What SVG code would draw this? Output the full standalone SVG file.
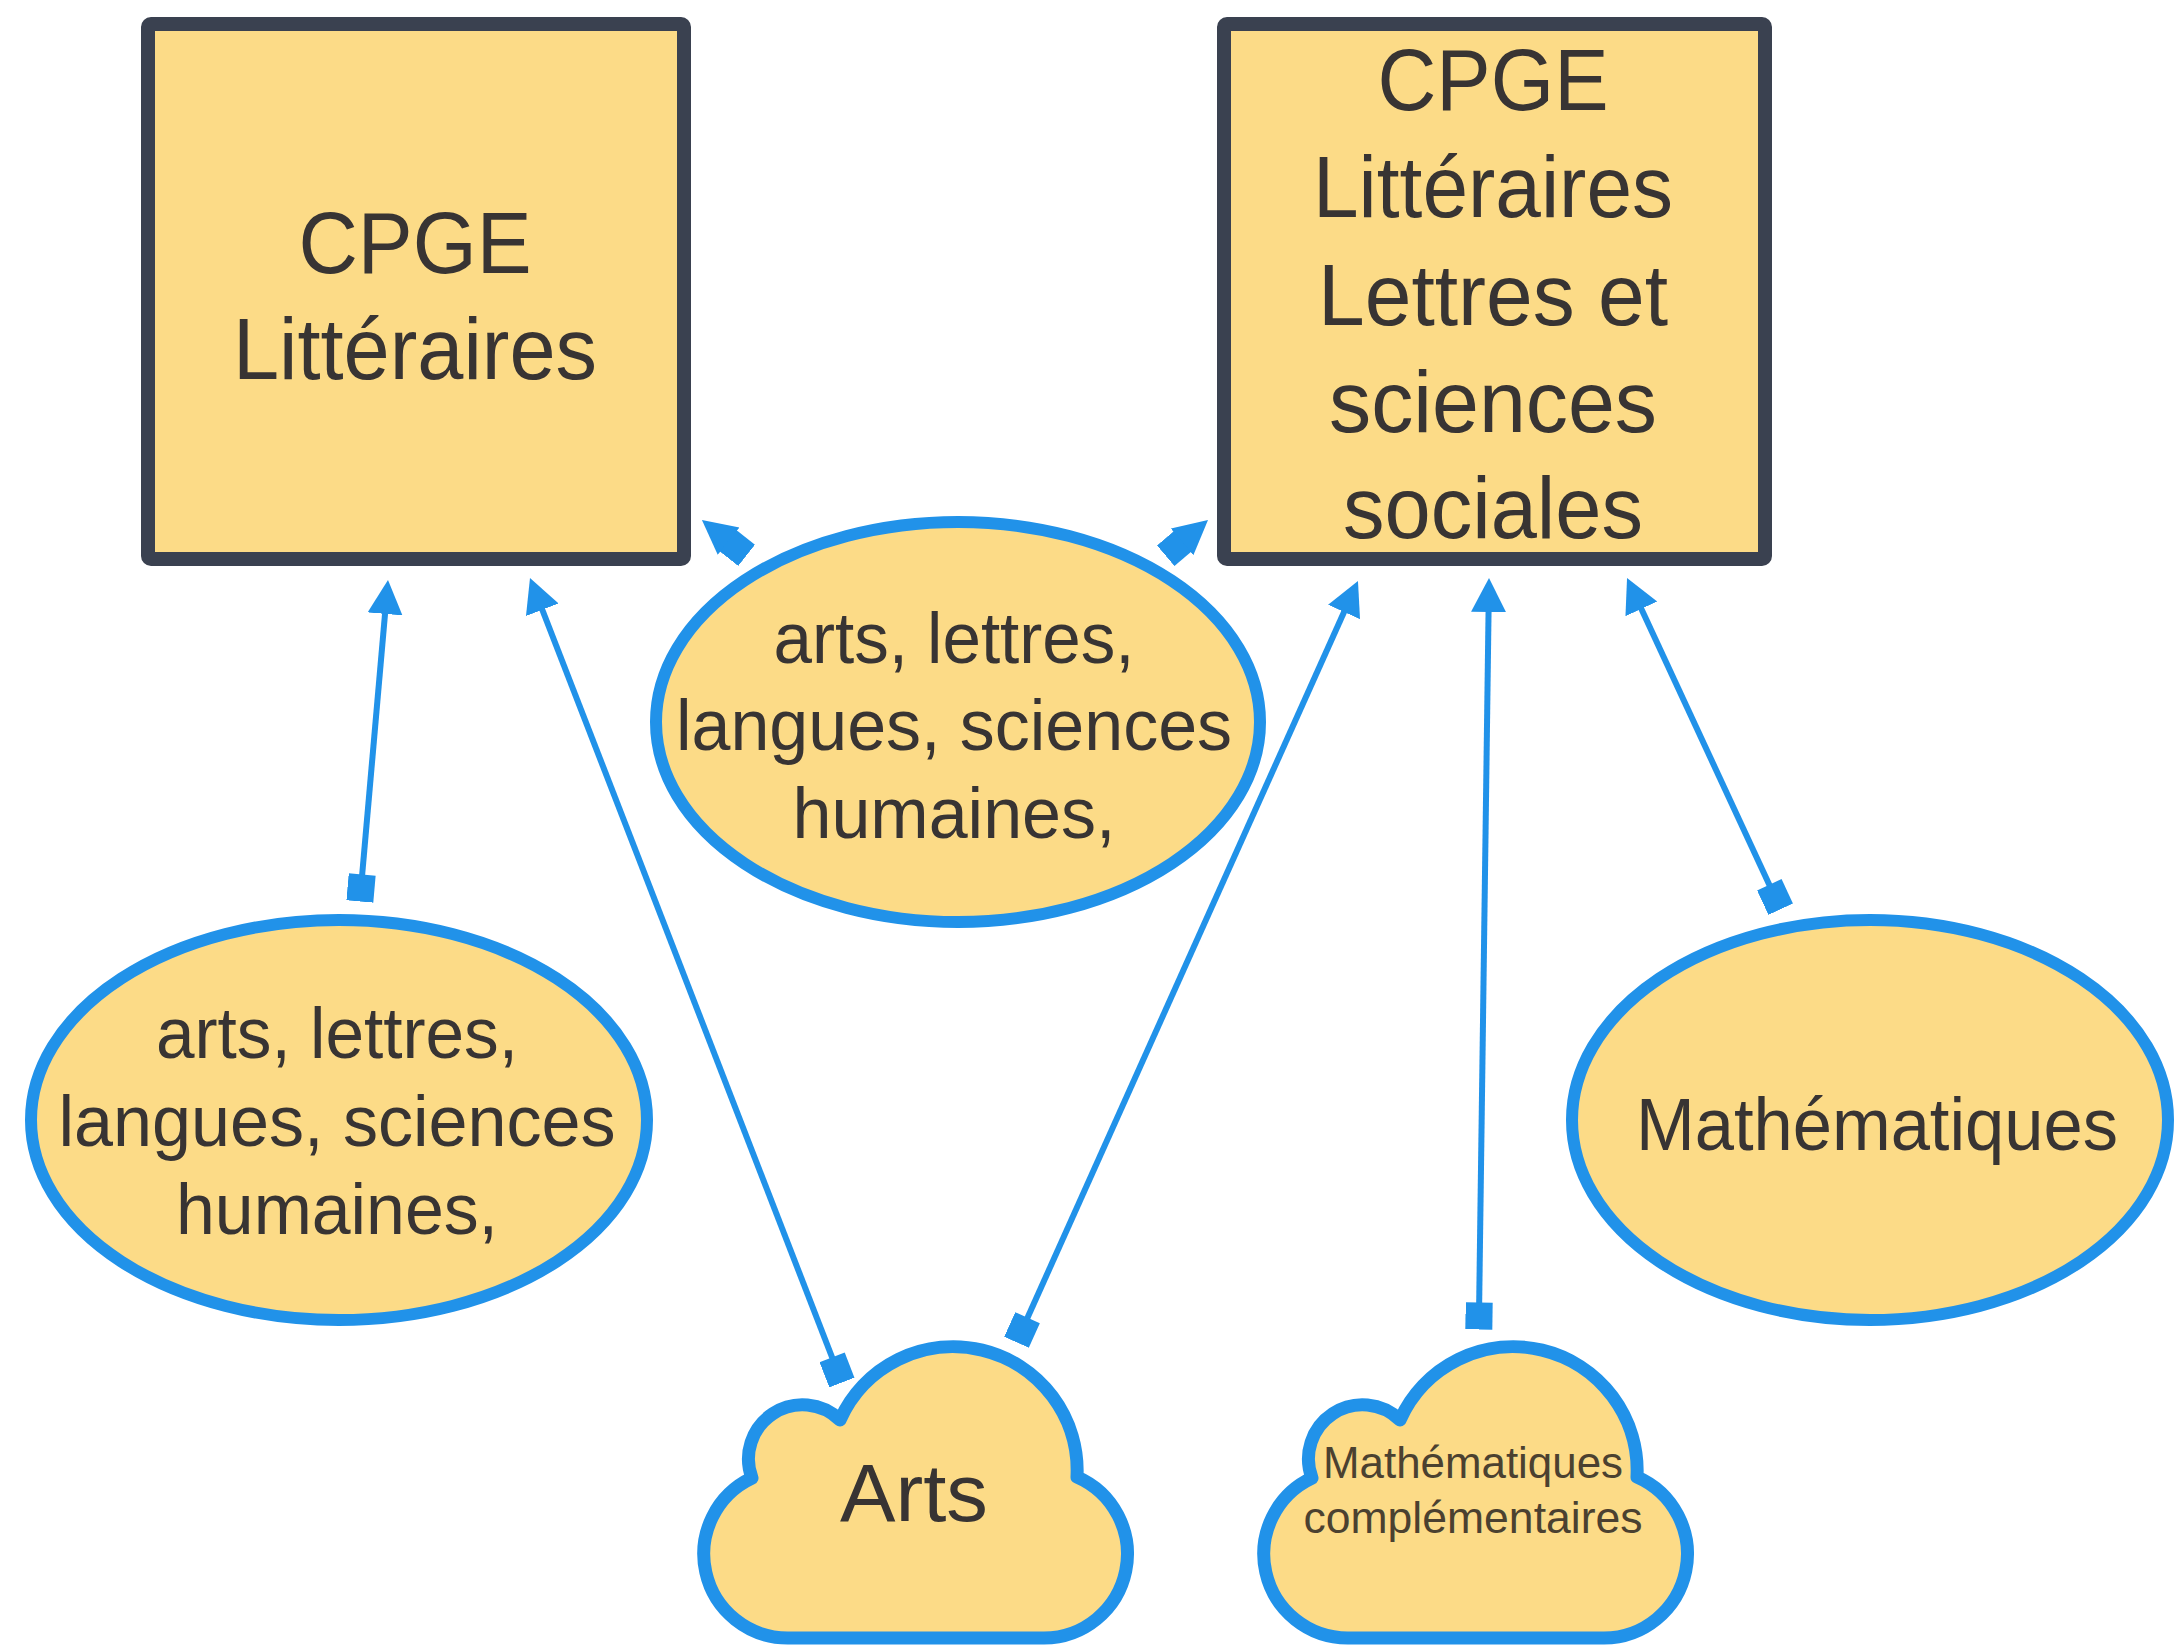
<svg xmlns="http://www.w3.org/2000/svg" width="2178" height="1647" viewBox="0 0 2178 1647">
  <style>
    .box { fill: #FCDB87; stroke: #3A4150; stroke-width: 14; }
    .ell { fill: #FCDB87; stroke: #2192E9; stroke-width: 12; }
    .cloud { fill: #FCDB87; stroke: #2192E9; stroke-width: 13; stroke-linejoin: round; }
    .conn { stroke: #2192E9; stroke-width: 6; fill: none; }
    text { font-family: "Liberation Sans", Arial, Helvetica, sans-serif; fill: #383433; text-anchor: middle; }
    .t88 { font-size: 88px; }
    .t72 { font-size: 72px; }
    .t74 { font-size: 74px; }
    .t82 { font-size: 82px; }
    .t44 { font-size: 44px; fill: #4B4130; }
  </style>
  <defs>
    <marker id="tri" markerUnits="userSpaceOnUse" markerWidth="36" markerHeight="36" refX="26" refY="17.5" orient="auto">
      <path d="M0,0 L34,17.5 L0,35 Z" fill="#2192E9"/>
    </marker>
    <marker id="sq" markerUnits="userSpaceOnUse" markerWidth="28" markerHeight="28" refX="13.5" refY="13.5" orient="auto">
      <rect x="0" y="0" width="27" height="27" fill="#2192E9"/>
    </marker>
    <path id="cloudShape" d="M 788 1638 A 84 84 0 0 1 752 1478 A 54 54 0 0 1 840 1420 A 124 124 0 0 1 1077 1477 A 84 84 0 0 1 1044 1638 Z"/>
  </defs>

  <g id="connectors">
    <line class="conn" x1="361" y1="888" x2="387.3" y2="588" marker-start="url(#sq)" marker-end="url(#tri)"/>
    <line class="conn" x1="837" y1="1370" x2="532.9" y2="585.5" marker-start="url(#sq)" marker-end="url(#tri)"/>
    <line class="conn" x1="736" y1="547" x2="708.2" y2="525" marker-start="url(#sq)" marker-end="url(#tri)"/>
    <line class="conn" x1="1176" y1="547" x2="1201.9" y2="525.1" marker-start="url(#sq)" marker-end="url(#tri)"/>
    <line class="conn" x1="1022" y1="1330" x2="1354.7" y2="588.3" marker-start="url(#sq)" marker-end="url(#tri)"/>
    <line class="conn" x1="1479" y1="1316" x2="1488.9" y2="586" marker-start="url(#sq)" marker-end="url(#tri)"/>
    <line class="conn" x1="1775" y1="897" x2="1630.4" y2="585.3" marker-start="url(#sq)" marker-end="url(#tri)"/>
  </g>

  <g id="cpge-litteraires">
    <rect class="box" x="148" y="24" width="536" height="535" rx="3"/>
    <text class="t88" x="415" y="273" textLength="233" lengthAdjust="spacingAndGlyphs">CPGE</text>
    <text class="t88" x="415" y="379" textLength="364" lengthAdjust="spacingAndGlyphs">Littéraires</text>
  </g>

  <g id="cpge-lettres-sciences-sociales">
    <rect class="box" x="1224" y="24" width="541" height="535" rx="3"/>
    <text class="t88" x="1493" y="110" textLength="231" lengthAdjust="spacingAndGlyphs">CPGE</text>
    <text class="t88" x="1493" y="217" textLength="360" lengthAdjust="spacingAndGlyphs">Littéraires</text>
    <text class="t88" x="1493" y="325" textLength="350" lengthAdjust="spacingAndGlyphs">Lettres et</text>
    <text class="t88" x="1493" y="432" textLength="328" lengthAdjust="spacingAndGlyphs">sciences</text>
    <text class="t88" x="1493" y="538" textLength="300" lengthAdjust="spacingAndGlyphs">sociales</text>
  </g>

  <g id="ellipse-middle">
    <ellipse class="ell" cx="958" cy="722" rx="302" ry="200"/>
    <text class="t72" x="954" y="663" textLength="361" lengthAdjust="spacingAndGlyphs">arts, lettres,</text>
    <text class="t72" x="954" y="750" textLength="556" lengthAdjust="spacingAndGlyphs">langues, sciences</text>
    <text class="t72" x="954" y="838" textLength="323" lengthAdjust="spacingAndGlyphs">humaines,</text>
  </g>

  <g id="ellipse-left">
    <ellipse class="ell" cx="339" cy="1120" rx="308" ry="200"/>
    <text class="t72" x="337" y="1058" textLength="362" lengthAdjust="spacingAndGlyphs">arts, lettres,</text>
    <text class="t72" x="337" y="1146" textLength="557" lengthAdjust="spacingAndGlyphs">langues, sciences</text>
    <text class="t72" x="337" y="1234" textLength="322" lengthAdjust="spacingAndGlyphs">humaines,</text>
  </g>

  <g id="ellipse-mathematiques">
    <ellipse class="ell" cx="1870" cy="1120" rx="298" ry="200"/>
    <text class="t74" x="1877" y="1150" textLength="482" lengthAdjust="spacingAndGlyphs">Mathématiques</text>
  </g>

  <g id="cloud-arts">
    <use href="#cloudShape" class="cloud"/>
    <text class="t82" x="914" y="1521" textLength="148" lengthAdjust="spacingAndGlyphs">Arts</text>
  </g>

  <g id="cloud-maths-complementaires">
    <use href="#cloudShape" class="cloud" transform="translate(560,0)"/>
    <text class="t44" x="1473" y="1478" textLength="300" lengthAdjust="spacingAndGlyphs">Mathématiques</text>
    <text class="t44" x="1473" y="1533" textLength="339" lengthAdjust="spacingAndGlyphs">complémentaires</text>
  </g>
</svg>
